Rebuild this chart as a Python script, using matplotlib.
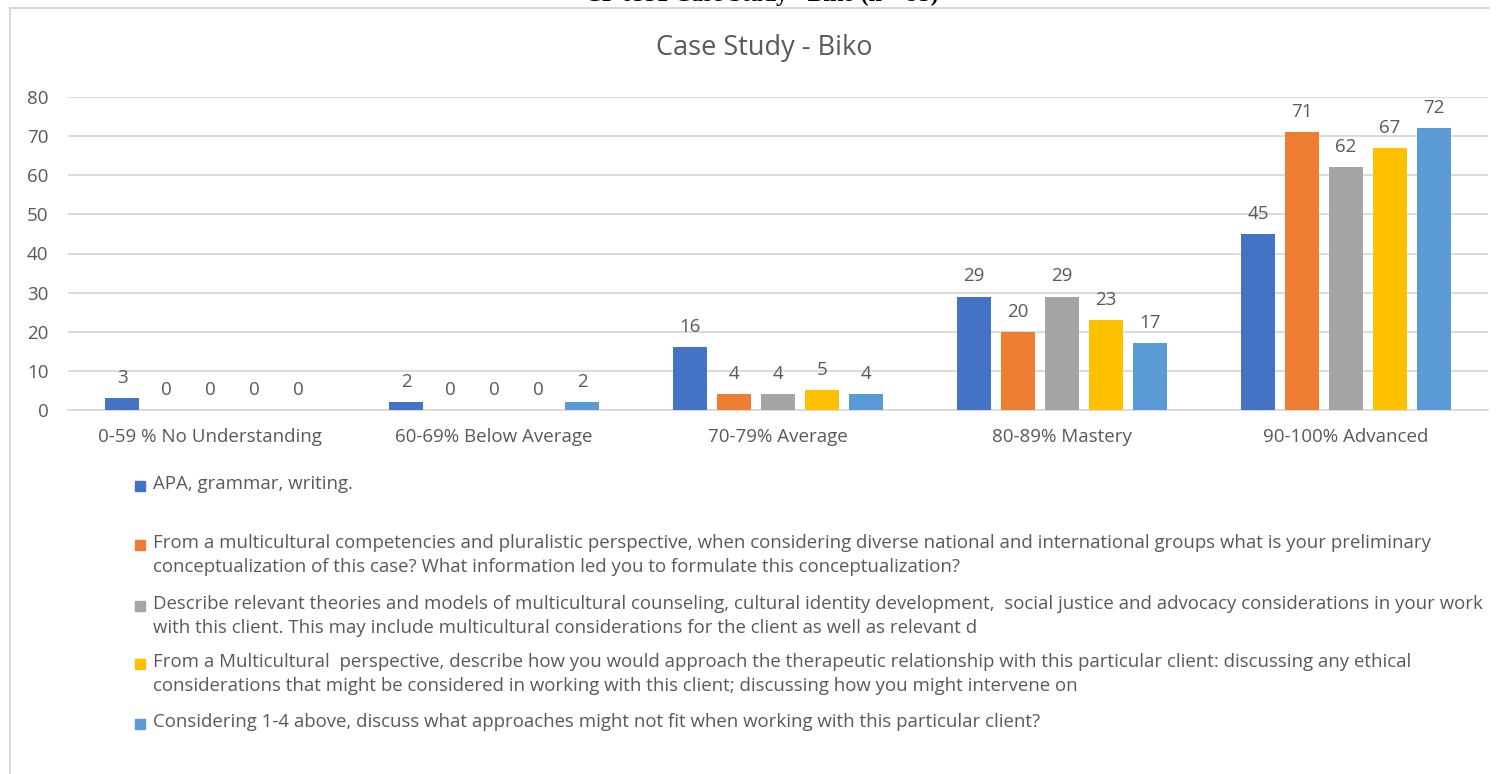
import matplotlib.pyplot as plt
from matplotlib.lines import Line2D
from matplotlib.patches import Rectangle
import numpy as np

plt.rcParams['font.family'] = ['Open Sans', 'DejaVu Sans']

categories = ['0-59 % No Understanding', '60-69% Below Average', '70-79% Average',
              '80-89% Mastery', '90-100% Advanced']
apa = [3, 2, 16, 29, 45]
conceptualization = [0, 0, 4, 20, 71]
theories = [0, 0, 4, 29, 62]
relationship = [0, 0, 5, 23, 67]
approaches = [0, 2, 4, 17, 72]

series_names = [
    'APA, grammar, writing.',
    'From a multicultural competencies and pluralistic perspective, when considering diverse national and international groups what is your preliminary\n'
    'conceptualization of this case? What information led you to formulate this conceptualization?',
    'Describe relevant theories and models of multicultural counseling, cultural identity development,  social justice and advocacy considerations in your work\n'
    'with this client. This may include multicultural considerations for the client as well as relevant d',
    'From a Multicultural  perspective, describe how you would approach the therapeutic relationship with this particular client: discussing any ethical\n'
    'considerations that might be considered in working with this client; discussing how you might intervene on',
    'Considering 1-4 above, discuss what approaches might not fit when working with this particular client?',
]
series = [apa, conceptualization, theories, relationship, approaches]
colors = ['#4472C4', '#ED7D31', '#A5A5A5', '#FFC000', '#5B9BD5']

W, H = 1503, 774
text_color = '#595959'
grid_color = '#D9D9D9'

fig = plt.figure(figsize=(W / 100, H / 100), dpi=100)
ax = fig.add_axes([68 / W, 1 - 410 / H, 1420 / W, 313 / H])

x = np.arange(len(categories))
step = 44 / 284
width = 34 / 284
for i, (vals, c) in enumerate(zip(series, colors)):
    pos = x + (i - 2) * step
    ax.bar(pos, vals, width=width, color=c, zorder=3)
    for px, v in zip(pos, vals):
        ax.annotate(str(v), (px, v), xytext=(0, 8), textcoords='offset points',
                    ha='center', va='bottom', fontsize=13.5, color=text_color)

ax.set_xlim(-0.5, len(categories) - 0.5)
ax.set_ylim(0, 80)
ax.set_yticks(range(0, 81, 10))
ax.set_xticks(x)
ax.set_xticklabels(categories)
ax.tick_params(axis='both', length=0, labelsize=13.5, labelcolor=text_color)
ax.tick_params(axis='x', pad=13)
ax.tick_params(axis='y', pad=14)
ax.grid(axis='y', color=grid_color, linewidth=1.3, zorder=0)
for s in ['top', 'right', 'left']:
    ax.spines[s].set_visible(False)
ax.spines['bottom'].set_color(grid_color)
ax.spines['bottom'].set_linewidth(1.3)

fig.text(764 / W, 1 - 48 / H, 'Case Study - Biko', ha='center', va='center',
         fontsize=19.5, color=text_color)

# page heading above the chart, mostly outside the frame
fig.text(762 / W, 1 - 1.5 / H, 'CP 6551 Case Study - Biko (n = 95)', ha='center',
         va='baseline', fontsize=17, fontweight='bold', family='Liberation Serif')

# chart frame
fig.add_artist(Line2D([10 / W, 10 / W], [0, 1 - 8 / H], color=grid_color, lw=1.5))
fig.add_artist(Line2D([10 / W, 1489 / W], [1 - 8 / H, 1 - 8 / H], color=grid_color, lw=1.5))

# legend below the plot
legend_rows = [486, 545, 606, 664, 724]
for name, c, y in zip(series_names, colors, legend_rows):
    fig.add_artist(Rectangle((135 / W, 1 - (y + 5) / H), 10 / W, 10 / H,
                             transform=fig.transFigure, color=c))
    fig.text(153 / W, 1 - (y - 11) / H, name, ha='left', va='top', fontsize=13.4,
             color=text_color, linespacing=1.4)

fig.savefig('out.png', dpi=100)
